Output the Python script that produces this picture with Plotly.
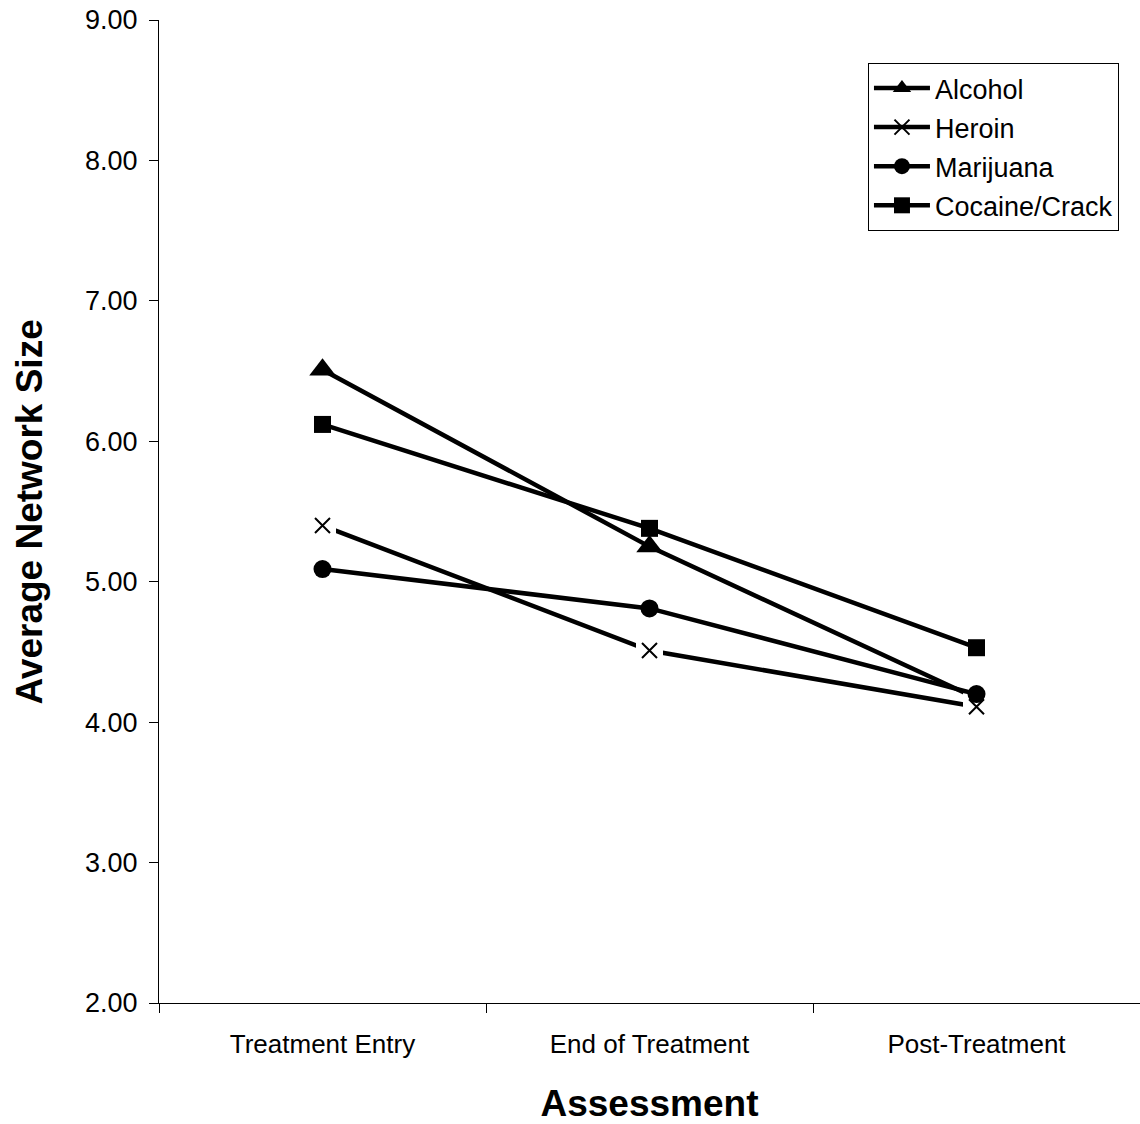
import plotly.graph_objects as go

categories = ["Treatment Entry", "End of Treatment", "Post-Treatment"]
alcohol = [6.51, 5.25, 4.17]
heroin = [5.40, 4.51, 4.11]
marijuana = [5.09, 4.81, 4.20]
cocaine = [6.12, 5.38, 4.53]
y_ticks = [2, 3, 4, 5, 6, 7, 8, 9]

FONT = "Liberation Sans, Arial, sans-serif"
LW = 4.5

fig = go.Figure()
fig.add_trace(go.Scatter(x=categories, y=alcohol, name="Alcohol", mode="lines+markers",
                         line=dict(color="black", width=LW),
                         marker=dict(symbol="triangle-up", size=23, color="black"),
                         legendgroup="a"))
fig.add_trace(go.Scatter(x=categories, y=heroin, name="Heroin", mode="lines+markers",
                         line=dict(color="black", width=LW),
                         marker=dict(symbol="x-thin", size=15, color="black",
                                     line=dict(color="black", width=2)),
                         legendgroup="b"))
fig.add_trace(go.Scatter(x=categories, y=heroin, mode="markers", showlegend=False, hoverinfo="skip",
                         marker=dict(symbol="square", size=27, color="white", line=dict(width=0)),
                         legendgroup="b"))
fig.add_trace(go.Scatter(x=categories, y=heroin, mode="markers", showlegend=False, hoverinfo="skip",
                         marker=dict(symbol="x-thin", size=15, color="black",
                                     line=dict(color="black", width=2)),
                         legendgroup="b"))
fig.add_trace(go.Scatter(x=categories, y=marijuana, name="Marijuana", mode="lines+markers",
                         line=dict(color="black", width=LW),
                         marker=dict(symbol="circle", size=18, color="black"),
                         legendgroup="c"))
fig.add_trace(go.Scatter(x=categories, y=cocaine, name="Cocaine/Crack", mode="lines+markers",
                         line=dict(color="black", width=LW),
                         marker=dict(symbol="square", size=17, color="black"),
                         legendgroup="d"))

fig.update_layout(
    width=1140, height=1124,
    margin=dict(l=159, r=0, t=20, b=121),
    paper_bgcolor="white", plot_bgcolor="white",
    font=dict(family=FONT, size=26, color="black"),
    showlegend=True,
    legend=dict(x=0.7227, y=0.9563, xanchor="left", yanchor="top",
                bordercolor="black", borderwidth=1, bgcolor="white",
                font=dict(family=FONT, size=27, color="black"),
                itemwidth=56,
                traceorder="grouped", tracegroupgap=1),
    xaxis=dict(range=[-0.5, 2.5], tickson="boundaries", ticks="outside", ticklen=9,
               tickcolor="black", showline=True, linecolor="black", linewidth=1,
               showgrid=False, zeroline=False, ticklabelstandoff=18,
               tickfont=dict(size=26),
               title=dict(text="<b>Assessment</b>", font=dict(family=FONT, size=37), standoff=34)),
    yaxis=dict(range=[2, 9], tickvals=y_ticks, tickformat=".2f", ticks="outside", ticklen=9,
               tickcolor="black", showline=True, linecolor="black", linewidth=1,
               showgrid=False, zeroline=False, ticklabelstandoff=6,
               tickfont=dict(size=27)),
    annotations=[dict(text="<b>Average Network Size</b>", xref="paper", yref="paper",
                      x=-0.1315, y=0.5, xanchor="center", yanchor="middle",
                      textangle=-90, showarrow=False,
                      font=dict(family=FONT, size=37, color="black"))],
)

fig.write_html("out.html")
